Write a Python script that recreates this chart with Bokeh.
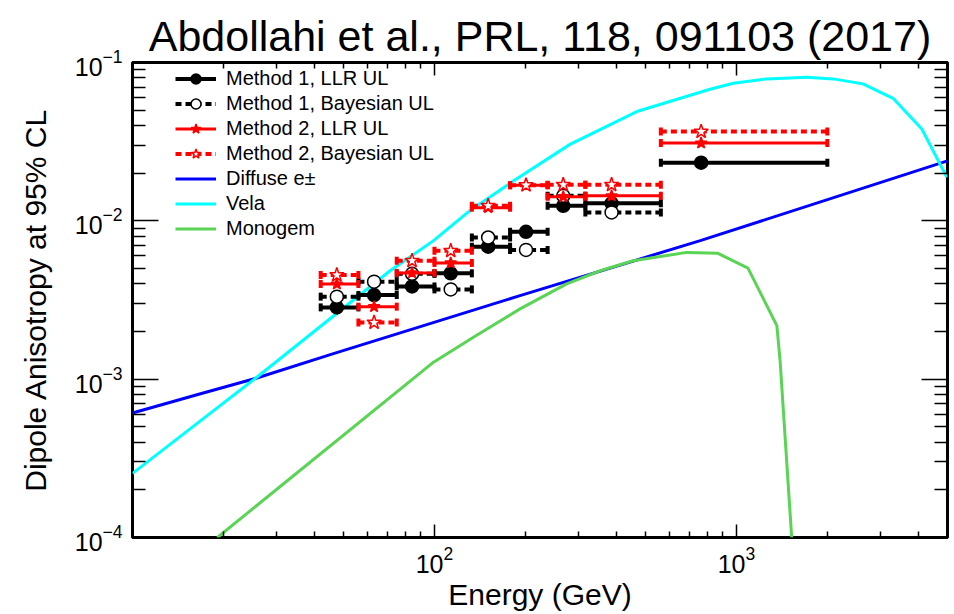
import numpy as np
from bokeh.plotting import figure
from bokeh.models import (Range1d, FixedTicker, LogAxis, Legend, LegendItem,
                          ColumnDataSource)
from bokeh.embed import file_html
from bokeh.resources import INLINE

FONT = "Liberation Sans"

title_text = "Abdollahi et al., PRL, 118, 091103 (2017)"
x_label = "Energy (GeV)"
y_label = "Dipole Anisotropy at 95% CL"

# axis ranges and ticks
X_MIN, X_MAX = 10, 5000
Y_MIN, Y_MAX = 1e-4, 1e-1
x_major = [100, 1000]
x_minor = [20, 30, 40, 50, 60, 70, 80, 90,
           200, 300, 400, 500, 600, 700, 800, 900,
           2000, 3000, 4000]
y_major = [1e-4, 1e-3, 1e-2, 1e-1]
y_minor = [k * 10.0 ** e for e in (-4, -3, -2) for k in range(2, 10)]

# energy bins (GeV)
bin_lo = [42, 56, 75, 100, 133, 178, 237, 316, 562]
bin_hi = [56, 75, 100, 133, 178, 237, 316, 562, 2000]
bin_mid = [47.5, 63.1, 84.3, 113.2, 150.6, 201, 267, 386, 764]

# upper limits
m1_llr = [2.84e-3, 3.40e-3, 3.85e-3, 4.66e-3, 6.87e-3, 8.53e-3, 1.245e-2, 1.29e-2, 2.33e-2]
m1_bayes = [3.32e-3, 4.13e-3, 4.63e-3, 3.69e-3, 7.85e-3, 6.55e-3, 1.44e-2, 1.13e-2]
m2_llr = [3.99e-3, 2.87e-3, 4.69e-3, 5.42e-3, 1.21e-2, 1.68e-2, 1.42e-2, 1.44e-2, 3.10e-2]
m2_bayes = [4.55e-3, 2.28e-3, 5.60e-3, 6.47e-3, 1.245e-2, 1.68e-2, 1.69e-2, 1.69e-2, 3.66e-2]

# model curves
diffuse_E = [10, 16.8, 25.5, 46.3, 192, 759, 5000]
diffuse_A = [6.11e-4, 8.09e-4, 1.01e-3, 1.45e-3, 3.37e-3, 7.50e-3, 2.39e-2]

vela_E = [10, 25.5, 71.3, 99.3, 131, 183, 281, 468, 818, 977, 1262, 1709, 2089, 2626, 3302, 4111, 4977]
vela_A = [2.54e-4, 1.01e-3, 4.84e-3, 7.5e-3, 1.16e-2, 1.79e-2, 3.04e-2, 4.90e-2, 6.78e-2,
          7.40e-2, 7.88e-2, 8.07e-2, 7.88e-2, 7.33e-2, 5.94e-2, 3.80e-2, 1.88e-2]

monogem_E = [19.1, 99.3, 134.6, 192, 274, 354, 455, 685, 869, 1092, 1361, 1395, 1524]
monogem_A = [1.0e-4, 1.28e-3, 1.84e-3, 2.78e-3, 4.0e-3, 4.84e-3, 5.60e-3, 6.32e-3,
             6.23e-3, 5.03e-3, 2.18e-3, 1.31e-3, 1.0e-4]

p = figure(width=954, height=614, x_axis_type="log", y_axis_type="log",
           x_range=Range1d(X_MIN, X_MAX), y_range=Range1d(Y_MIN, Y_MAX),
           output_backend="svg", toolbar_location=None,
           min_border_left=132, min_border_right=7, min_border_top=62, min_border_bottom=77)
p.grid.visible = False
p.outline_line_color = "black"
p.outline_line_width = 3
p.background_fill_color = "white"
p.border_fill_color = "white"

p.title.text = title_text
p.title.align = "center"
p.title.text_font = FONT
p.title.text_font_size = "43px"
p.title.text_font_style = "normal"
p.title.text_color = "black"
p.title.standoff = 6

bottom = p.below[0]
left = p.left[0]


def style_axis(ax, ticker, major_len, minor_len, show_labels):
    ax.ticker = ticker
    ax.major_tick_in = major_len
    ax.major_tick_out = 0
    ax.minor_tick_in = minor_len
    ax.minor_tick_out = 0
    ax.major_tick_line_width = 1.5
    ax.minor_tick_line_width = 1.5
    ax.major_tick_line_color = "black"
    ax.minor_tick_line_color = "black"
    ax.axis_line_color = None
    if show_labels:
        ax.major_label_text_font = FONT
        ax.major_label_text_font_size = "25px"
        ax.major_label_text_color = "black"
    else:
        ax.major_label_text_font_size = "2px"
        ax.major_label_text_alpha = 0
        ax.major_label_standoff = 0


xt = FixedTicker(ticks=x_major, minor_ticks=x_minor)
yt = FixedTicker(ticks=y_major, minor_ticks=y_minor)
style_axis(bottom, xt, 13, 6, True)
style_axis(left, yt, 26, 13, True)
bottom.major_label_standoff = 8
left.major_label_standoff = 10
top = LogAxis()
style_axis(top, xt, 13, 6, False)
p.add_layout(top, "above")
right = LogAxis()
style_axis(right, yt, 26, 13, False)
p.add_layout(right, "right")

bottom.axis_label = x_label
left.axis_label = y_label
for ax, st in ((bottom, 2), (left, 20)):
    ax.axis_label_text_font = FONT
    ax.axis_label_text_font_size = "30px"
    ax.axis_label_text_font_style = "normal"
    ax.axis_label_text_color = "black"
    ax.axis_label_standoff = st

# model curves
r_diff = p.line(diffuse_E, diffuse_A, line_color="#0000ff", line_width=3)
r_vela = p.line(vela_E, vela_A, line_color="#00ffff", line_width=3)
r_mono = p.line(monogem_E, monogem_A, line_color="#59d454", line_width=3)


def draw_series(vals, color, dash, lw, marker, msize, fill):
    n = len(vals)
    src = ColumnDataSource(dict(lo=bin_lo[:n], hi=bin_hi[:n], mid=bin_mid[:n], v=vals))
    seg = p.segment(x0="lo", y0="v", x1="hi", y1="v", source=src,
                    line_color=color, line_width=lw, line_dash=dash)
    for col in ("lo", "hi"):
        p.scatter(x=col, y="v", source=src, marker="dash", angle=np.pi / 2,
                  size=8, line_color=color, line_width=4)
    mk = p.scatter(x="mid", y="v", source=src, marker=marker, size=msize,
                   fill_color=fill, line_color=color, line_width=1.5)
    return seg, mk


s1, k1 = draw_series(m1_llr, "black", "solid", 4, "circle", 13, "black")
s2, k2 = draw_series(m1_bayes, "black", "6 4", 4, "circle", 13, "white")
s3, k3 = draw_series(m2_llr, "red", "solid", 3, "star", 12, "red")
s4, k4 = draw_series(m2_bayes, "red", "6 4", 4, "star", 15, "white")

legend = Legend(items=[
    LegendItem(label="Method 1, LLR UL", renderers=[s1, k1]),
    LegendItem(label="Method 1, Bayesian UL", renderers=[s2, k2]),
    LegendItem(label="Method 2, LLR UL", renderers=[s3, k3]),
    LegendItem(label="Method 2, Bayesian UL", renderers=[s4, k4]),
    LegendItem(label="Diffuse e\u00b1", renderers=[r_diff]),
    LegendItem(label="Vela", renderers=[r_vela]),
    LegendItem(label="Monogem", renderers=[r_mono]),
], location=(43, 296), orientation="vertical", padding=0, margin=0, spacing=0,
    glyph_width=41, glyph_height=25, label_height=25, label_standoff=10,
    label_text_font=FONT, label_text_font_size="20px", label_text_color="black",
    border_line_color=None, background_fill_alpha=0)
p.add_layout(legend)

open("out.html", "w").write(file_html(p, INLINE))
